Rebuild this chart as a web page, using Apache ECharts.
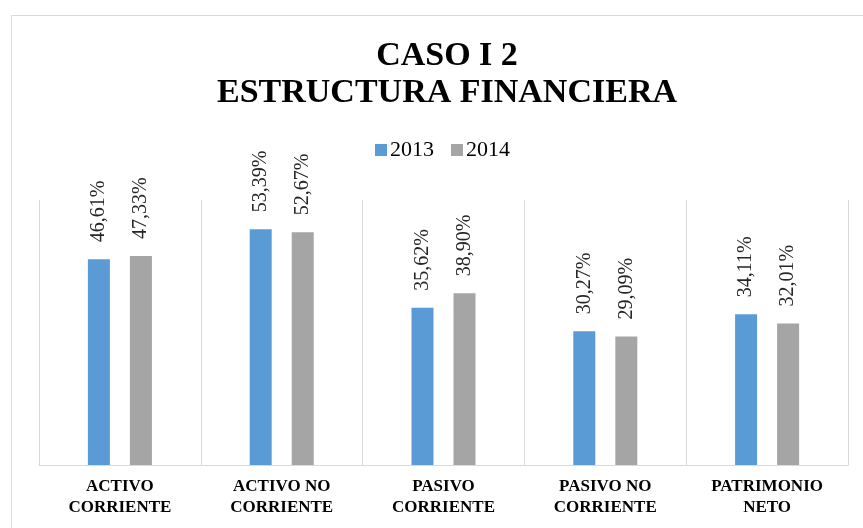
<!DOCTYPE html>
<html>
<head>
<meta charset="utf-8">
<script src="https://cdn.jsdelivr.net/npm/echarts@6/dist/echarts.min.js"></script>
<style>
html, body { margin: 0; padding: 0; background: #fff; }
#chart { width: 863px; height: 528px; }
</style>
</head>
<body>
<div id="chart"></div>
<script>
var categories = ['ACTIVO\nCORRIENTE', 'ACTIVO NO\nCORRIENTE', 'PASIVO\nCORRIENTE', 'PASIVO NO\nCORRIENTE', 'PATRIMONIO\nNETO'];
var values2013 = [46.61, 53.39, 35.62, 30.27, 34.11];
var values2014 = [47.33, 52.67, 38.90, 29.09, 32.01];

var serif = '"Liberation Serif", "Times New Roman", serif';

function pct (p) {
  return p.value.toFixed(2).replace('.', ',') + '%';
}

var labelStyle = {
  show: true,
  position: 'top',
  rotate: 90,
  align: 'left',
  verticalAlign: 'middle',
  distance: 17,
  formatter: pct,
  fontFamily: serif,
  fontSize: 20,
  color: '#262626'
};

var chart = echarts.init(document.getElementById('chart'));
chart.setOption({
  animation: false,
  backgroundColor: '#fff',
  graphic: [{
    type: 'rect',
    left: 9, top: 13,
    shape: { width: 900, height: 600 },
    style: { fill: 'none', stroke: '#d9d9d9', lineWidth: 1 },
    silent: true
  }],
  title: {
    text: 'CASO I 2\nESTRUCTURA FINANCIERA',
    left: 442,
    top: 33,
    textAlign: 'center',
    textStyle: {
      fontFamily: serif,
      fontWeight: 'bold',
      fontSize: 34,
      lineHeight: 37,
      color: '#000'
    }
  },
  legend: {
    left: 375,
    top: 139,
    padding: 0,
    itemWidth: 12,
    itemHeight: 12,
    itemGap: 17,
    icon: 'rect',
    textStyle: { fontFamily: serif, fontSize: 22, color: '#000', padding: [0, 0, 0, -2] },
    data: ['2013', '2014']
  },
  grid: { left: 39, right: 15, top: 200, bottom: 63 },
  xAxis: {
    type: 'category',
    data: categories,
    axisLine: { lineStyle: { color: '#d9d9d9' } },
    axisTick: { show: false },
    splitLine: { show: true, lineStyle: { color: '#d9d9d9', width: 1 } },
    axisLabel: {
      interval: 0,
      margin: 11,
      fontFamily: serif,
      fontWeight: 'bold',
      fontSize: 17,
      lineHeight: 21,
      color: '#000'
    }
  },
  yAxis: {
    type: 'value',
    min: 0,
    max: 60,
    show: false,
    splitLine: { show: false }
  },
  series: [
    {
      name: '2013',
      type: 'bar',
      data: values2013,
      barWidth: 22,
      barGap: '91%',
      itemStyle: { color: '#5b9bd5' },
      label: labelStyle
    },
    {
      name: '2014',
      type: 'bar',
      data: values2014,
      barWidth: 22,
      itemStyle: { color: '#a5a5a5' },
      label: labelStyle
    }
  ]
});
</script>
</body>
</html>
